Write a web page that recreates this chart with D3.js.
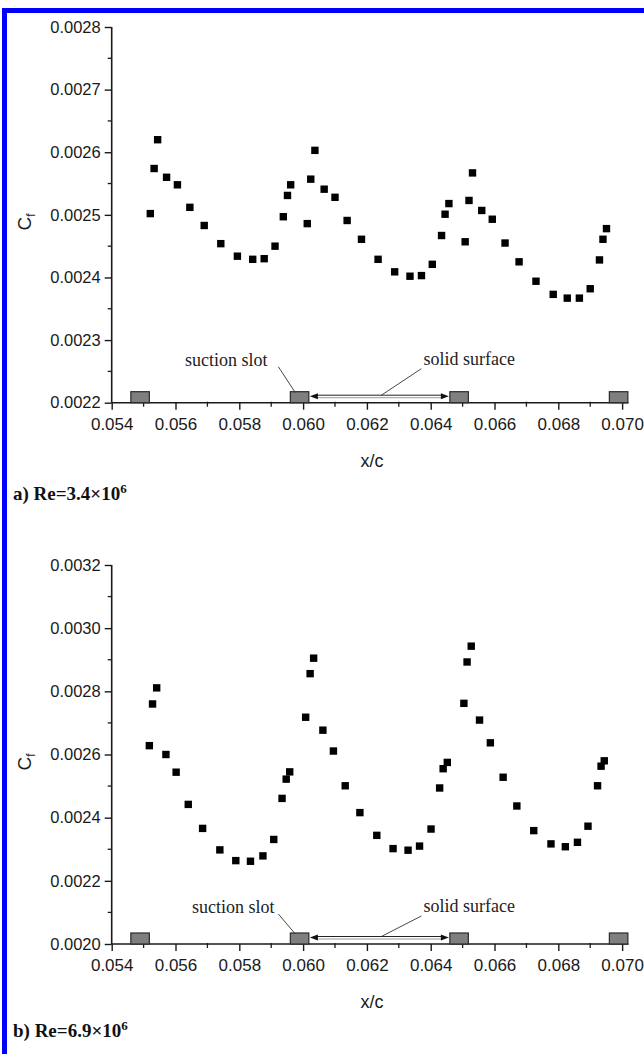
<!DOCTYPE html>
<html><head><meta charset="utf-8">
<script src="https://cdnjs.cloudflare.com/ajax/libs/d3/7.8.5/d3.min.js"></script>
<style>html,body{margin:0;padding:0;background:#fff}svg{display:block}</style>
</head><body><svg id="c" width="644" height="1054"></svg>
<script>
// ---- data ----
const xTicks = [0.054,0.056,0.058,0.060,0.062,0.064,0.066,0.068,0.070];
const yTicksA = [0.0022,0.0023,0.0024,0.0025,0.0026,0.0027,0.0028];
const yTicksB = [0.0020,0.0022,0.0024,0.0026,0.0028,0.0030,0.0032];
const xA = [0.05521,0.05533,0.05544,0.05572,0.05606,0.05645,0.0569,0.05742,0.05794,0.05842,0.05878,0.05912,0.05938,0.05951,0.05961,0.06013,0.06024,0.06037,0.06066,0.0610,0.06138,0.06183,0.06235,0.06287,0.06335,0.06371,0.06405,0.06434,0.06445,0.06457,0.06508,0.0652,0.06531,0.0656,0.06593,0.06633,0.06677,0.0673,0.06784,0.06828,0.06866,0.069,0.06929,0.0694,0.06951];
const yA = [0.002502,0.002574,0.00262,0.00256,0.002548,0.002512,0.002483,0.002454,0.002434,0.002429,0.00243,0.00245,0.002497,0.002531,0.002548,0.002486,0.002557,0.002603,0.002541,0.002528,0.002491,0.002461,0.002429,0.002409,0.002402,0.002403,0.002421,0.002467,0.002501,0.002518,0.002457,0.002523,0.002567,0.002507,0.002493,0.002455,0.002425,0.002394,0.002373,0.002367,0.002367,0.002382,0.002428,0.002461,0.002478];
const xB = [0.05518,0.05528,0.05541,0.0557,0.05602,0.0564,0.05685,0.05739,0.05789,0.05835,0.05874,0.05908,0.05934,0.05947,0.05958,0.06008,0.06022,0.06033,0.06062,0.06095,0.06132,0.06178,0.06231,0.06282,0.06329,0.06365,0.06401,0.06428,0.06439,0.06452,0.06504,0.06514,0.06527,0.06553,0.06587,0.06627,0.0667,0.06723,0.06777,0.06822,0.0686,0.06893,0.06923,0.06934,0.06944];
const yB = [0.002628,0.00276,0.002811,0.0026,0.002544,0.002442,0.002366,0.002298,0.002264,0.002262,0.002279,0.002331,0.002461,0.002522,0.002545,0.002718,0.002856,0.002905,0.002677,0.002611,0.002501,0.002416,0.002344,0.002302,0.002297,0.00231,0.002364,0.002494,0.002555,0.002575,0.002762,0.002893,0.002943,0.002709,0.002637,0.002528,0.002437,0.002359,0.002317,0.002308,0.002322,0.002373,0.002501,0.002563,0.00258];
const slotStart = [0.0546,0.0596,0.0646,0.0696];
const slotWidth = 0.00058;
const captions = [["a) Re=3.4×10","6"],["b) Re=6.9×10","6"]];

const svg = d3.select("#c");
svg.append("rect").attr("width",644).attr("height",1054).attr("fill","#fff");
// blue frame (top and left)
svg.append("rect").attr("x",2).attr("y",8).attr("width",642).attr("height",5).attr("fill","#0000ff");
svg.append("rect").attr("x",2).attr("y",8).attr("width",5).attr("height",1046).attr("fill","#0000ff");

const sans = "'Liberation Sans', Arial, sans-serif";
const serif = "'Liberation Serif', 'Times New Roman', serif";

function panel(cfg){
  const g = svg.append("g");
  const x = d3.scaleLinear().domain([0.054,0.0702]).range([111.7,628.5]);
  const y = d3.scaleLinear().domain(cfg.yDom).range([cfg.y0,cfg.y1]);
  const ink = "#1a1a1a";
  const xMinor = d3.range(0.055,0.0701,0.002);
  const xAx = d3.axisBottom(x).tickValues(xTicks).tickFormat(d3.format(".3f")).tickSize(7).tickPadding(8);
  const gx = g.append("g").attr("transform",`translate(0,${cfg.y0})`).call(xAx);
  gx.select(".domain").remove();
  gx.selectAll("line").attr("stroke",ink).attr("stroke-width",1.4);
  gx.selectAll("text").attr("font-family",sans).attr("font-size",17).attr("fill",ink);
  g.append("g").selectAll("line").data(xMinor).join("line")
    .attr("x1",d=>x(d)).attr("x2",d=>x(d)).attr("y1",cfg.y0-1).attr("y2",cfg.y0+4)
    .attr("stroke",ink).attr("stroke-width",1.3);
  const yAx = d3.axisLeft(y).tickValues(cfg.yTicks).tickFormat(d3.format(".4f")).tickSize(7).tickPadding(4);
  const gy = g.append("g").attr("transform",`translate(111.7,0)`).call(yAx);
  gy.select(".domain").remove();
  gy.selectAll("line").attr("stroke",ink).attr("stroke-width",1.4);
  gy.selectAll("text").attr("font-family",sans).attr("font-size",16.5).attr("fill",ink);
  g.append("g").selectAll("line").data(cfg.yMinor).join("line")
    .attr("x1",111.7-4).attr("x2",111.7).attr("y1",d=>y(d)).attr("y2",d=>y(d))
    .attr("stroke",ink).attr("stroke-width",1.3);
  // axis lines
  g.append("line").attr("x1",x(0.054)).attr("x2",x(0.0702)).attr("y1",cfg.y0).attr("y2",cfg.y0).attr("stroke",ink).attr("stroke-width",1.6);
  g.append("line").attr("x1",111.7).attr("x2",111.7).attr("y1",cfg.y0).attr("y2",cfg.y1).attr("stroke",ink).attr("stroke-width",1.6);
  // slots
  g.append("g").selectAll("rect").data(slotStart).join("rect")
    .attr("x",d=>x(d)).attr("width",d=>x(d+slotWidth)-x(d))
    .attr("y",cfg.y0-11).attr("height",11)
    .attr("fill","#7f7f7f").attr("stroke","#2a2a2a").attr("stroke-width",1.2);
  // double arrow between slot 2 and slot 3
  const ax1 = x(slotStart[1]+slotWidth)+1, ax2 = x(slotStart[2])-1, ay = cfg.y0-6.5;
  g.append("line").attr("x1",ax1+6).attr("x2",ax2-6).attr("y1",ay-1).attr("y2",ay-1).attr("stroke","#222").attr("stroke-width",1);
  g.append("line").attr("x1",ax1+6).attr("x2",ax2-6).attr("y1",ay+1.5).attr("y2",ay+1.5).attr("stroke","#999").attr("stroke-width",1);
  g.append("path").attr("d",`M${ax1},${ay} L${ax1+8},${ay-3} L${ax1+8},${ay+3} Z`).attr("fill","#111");
  g.append("path").attr("d",`M${ax2},${ay} L${ax2-8},${ay-3} L${ax2-8},${ay+3} Z`).attr("fill","#111");
  // annotations
  const s2 = x(slotStart[1]);
  g.append("text").attr("x",s2-64+cfg.sOff).attr("y",cfg.y0-cfg.lblOff).attr("text-anchor","middle")
    .attr("font-family",serif).attr("font-size",18).attr("fill","#222").text("suction slot");
  g.append("line").attr("x1",s2-12).attr("y1",cfg.y0-cfg.lblOff+1).attr("x2",s2+5).attr("y2",cfg.y0-10)
    .attr("stroke","#333").attr("stroke-width",0.9);
  const mid = (ax1+ax2)/2;
  g.append("text").attr("x",mid+90).attr("y",cfg.y0-cfg.lblOff-1).attr("text-anchor","middle")
    .attr("font-family",serif).attr("font-size",18).attr("fill","#222").text("solid surface");
  g.append("line").attr("x1",mid+42).attr("y1",cfg.y0-cfg.lblOff+3).attr("x2",mid+2).attr("y2",ay-1)
    .attr("stroke","#333").attr("stroke-width",0.9);
  // points
  const s = 7.4;
  g.append("g").selectAll("rect").data(cfg.xs.map((d,i)=>[d,cfg.ys[i]])).join("rect")
    .attr("x",d=>x(d[0])-s/2).attr("y",d=>y(d[1])-s/2).attr("width",s).attr("height",s).attr("fill","#000");
  // axis titles
  g.append("text").attr("x",372).attr("y",cfg.y0+64).attr("text-anchor","middle")
    .attr("font-family",sans).attr("font-size",18).attr("fill",ink).text("x/c");
  const yl = g.append("text").attr("transform",`translate(31,${cfg.yLbl}) rotate(-90)`).attr("text-anchor","middle")
    .attr("font-family",sans).attr("font-size",19).attr("fill",ink);
  yl.append("tspan").text("C");
  yl.append("tspan").attr("font-size",12).attr("dy",4).text("f");
  // caption
  const cap = g.append("text").attr("x",13).attr("y",cfg.capY).attr("font-family",serif)
    .attr("font-weight","bold").attr("font-size",19).attr("fill","#111");
  cap.append("tspan").text(cfg.cap[0]);
  cap.append("tspan").attr("font-size",13).attr("dy",-7).text(cfg.cap[1]);
}

panel({yDom:[0.0022,0.0028], y0:402.7, y1:27, yTicks:yTicksA, yMinor:d3.range(0.00225,0.0028,0.0001),
  xs:xA, ys:yA, yLbl:222, capY:500, cap:captions[0], lblOff:37, sOff:0});
panel({yDom:[0.0020,0.0032], y0:944, y1:565, yTicks:yTicksB, yMinor:d3.range(0.0021,0.0032,0.0002),
  xs:xB, ys:yB, yLbl:762, capY:1037, cap:captions[1], lblOff:31, sOff:7});
</script></body></html>
